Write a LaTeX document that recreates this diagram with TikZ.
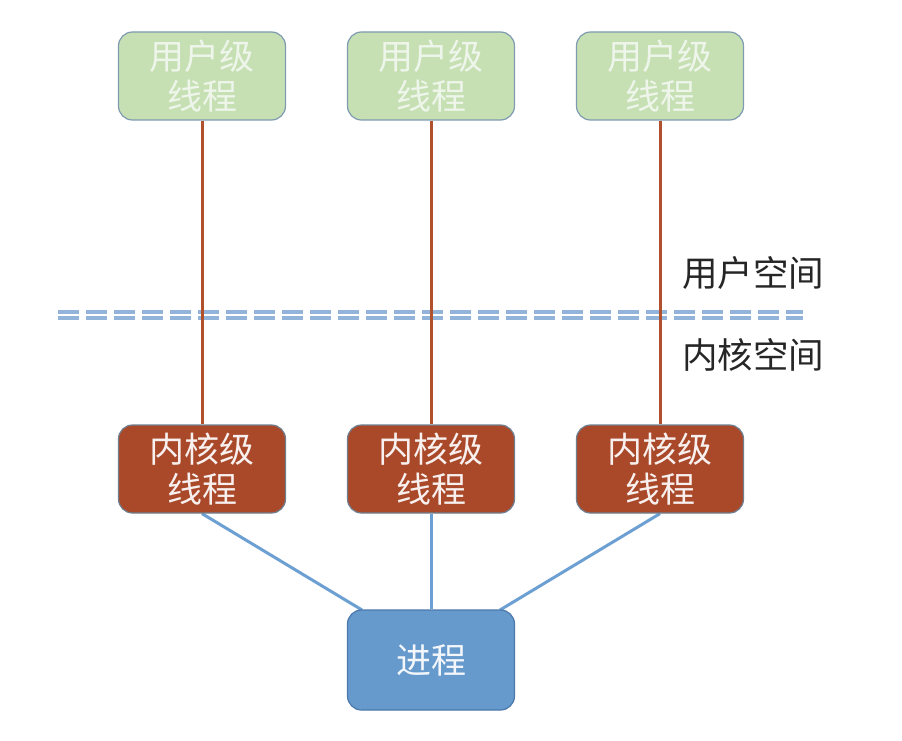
\documentclass[tikz,border=0pt]{standalone}
\usepackage{fontspec}
\newfontfamily\cjk{Noto Sans CJK SC}
\usetikzlibrary{backgrounds}
\definecolor{ugreen}{HTML}{C6E0B4}
\definecolor{ubord}{HTML}{7F9BB0}
\definecolor{kbrown}{HTML}{A9492A}
\definecolor{kbord}{HTML}{6F7F90}
\definecolor{pblue}{HTML}{6699CC}
\definecolor{pbord}{HTML}{4B79AC}
\definecolor{bline}{HTML}{B0502C}
\definecolor{lblue}{HTML}{6C9FD2}
\definecolor{dashc}{HTML}{92B4DA}
\definecolor{utext}{HTML}{EEF5EA}
\begin{document}
\begin{tikzpicture}[x=1pt,y=-1pt,
  box/.style={rounded corners=14pt, line width=1.2pt, minimum width=167pt, minimum height=88pt,
    align=center, font=\cjk\fontsize{35}{40}\selectfont, inner sep=0pt},
  ubox/.style={box, fill=ugreen, draw=ubord, text=utext},
  kbox/.style={box, fill=kbrown, draw=kbord, text=white!92!kbrown},
  pbox/.style={box, fill=pblue, draw=pbord, text=white!92!pblue, minimum height=100pt},
  rline/.style={draw=bline, line width=3pt},
  bconn/.style={draw=lblue, line width=3pt},
  dline/.style={draw=dashc, line width=3.4pt, dash pattern=on 21pt off 7pt},
  lbl/.style={font=\cjk\fontsize{35.5}{40}\selectfont, text=black!85, inner sep=0pt, anchor=west}
]
\useasboundingbox (0,0) rectangle (902,741);
\node[ubox] (u1) at (202,76) {用户级\\线程};
\node[ubox] (u2) at (431,76) {用户级\\线程};
\node[ubox] (u3) at (660,76) {用户级\\线程};
\node[kbox] (k1) at (202,469) {内核级\\线程};
\node[kbox] (k2) at (431,469) {内核级\\线程};
\node[kbox] (k3) at (660,469) {内核级\\线程};
\node[pbox] (p) at (431,660) {进程};
\node[lbl] (us) at (682,273) {用户空间};
\node[lbl] (ks) at (682,355) {内核空间};
\coordinate (dl1) at (58,312);
\coordinate (dr1) at (803,312);
\coordinate (dl2) at (58,318);
\coordinate (dr2) at (803,318);
\coordinate (pl) at (362,610);
\coordinate (pr) at (500,610);
\begin{scope}[on background layer]
\fill[white] (0,0) rectangle (902,741);
\draw[dline] (dl1) -- (dr1);
\draw[dline] (dl2) -- (dr2);
\draw[rline] (u1.south) -- (k1.north);
\draw[rline] (u2.south) -- (k2.north);
\draw[rline] (u3.south) -- (k3.north);
\draw[bconn] (k1.south) -- (pl);
\draw[bconn] (k2.south) -- (p.north);
\draw[bconn] (k3.south) -- (pr);
\end{scope}
\end{tikzpicture}
\end{document}
